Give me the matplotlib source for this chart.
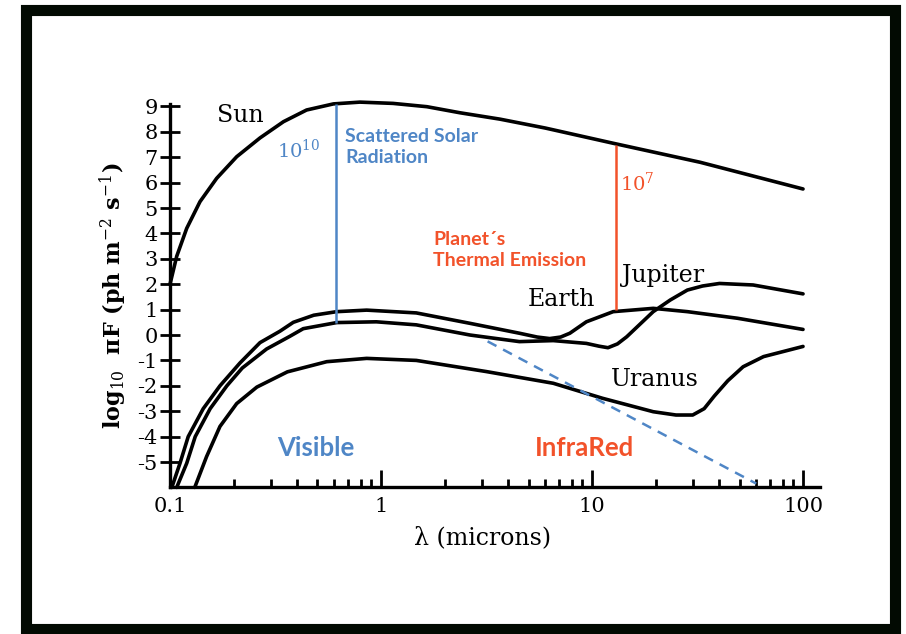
import numpy as np
import matplotlib
matplotlib.use("Agg")
import matplotlib.pyplot as plt
from matplotlib.patches import Rectangle

plt.rcParams["font.family"] = ["DejaVu Serif"]
plt.rcParams["mathtext.fontset"] = "dejavuserif"
plt.rcParams["axes.unicode_minus"] = False

# curves (wavelength in microns, log10 flux)
sun_x = [0.1, 0.1076, 0.120, 0.1387, 0.1664, 0.207, 0.267, 0.345, 0.444, 0.595, 0.794, 1.14, 1.65, 2.37, 3.66, 6.0, 12.6, 32.6, 100]
sun_y = [2.0, 3.1, 4.2, 5.25, 6.17, 7.02, 7.76, 8.4, 8.86, 9.1, 9.17, 9.12, 8.99, 8.75, 8.5, 8.15, 7.55, 6.8, 5.75]

earth_x = [0.102, 0.1115, 0.122, 0.1437, 0.1725, 0.2146, 0.267, 0.332, 0.384, 0.48, 0.617, 0.855, 1.47, 2.64, 4.53, 5.5, 6.3, 7.1, 7.85, 9.4, 12.6, 19.5, 28.3, 48.9, 100]
earth_y = [-6.0, -5.05, -4.0, -2.9, -2.0, -1.1, -0.3, 0.15, 0.5, 0.78, 0.92, 0.98, 0.87, 0.46, 0.07, -0.08, -0.14, -0.08, 0.07, 0.52, 0.92, 1.05, 0.92, 0.66, 0.22]

jupiter_x = [0.1076, 0.120, 0.1317, 0.155, 0.186, 0.22, 0.287, 0.37, 0.428, 0.617, 0.95, 1.47, 2.64, 4.53, 6.55, 9.4, 10.8, 11.9, 13.2, 14.6, 19.5, 23.5, 28.3, 33.4, 40.2, 58, 100]
jupiter_y = [-6.0, -5.05, -4.0, -2.9, -2.0, -1.3, -0.55, -0.05, 0.25, 0.49, 0.52, 0.40, 0.0, -0.26, -0.22, -0.33, -0.44, -0.5, -0.35, -0.07, 0.92, 1.38, 1.77, 1.93, 2.03, 1.97, 1.62]

uranus_x = [0.131, 0.149, 0.1725, 0.207, 0.258, 0.36, 0.553, 0.855, 1.47, 3.16, 6.55, 11.2, 19.5, 25, 30, 34, 38, 44, 52, 65, 100]
uranus_y = [-6.0, -4.79, -3.6, -2.7, -2.05, -1.45, -1.05, -0.92, -1.0, -1.44, -1.9, -2.49, -3.02, -3.15, -3.15, -2.9, -2.4, -1.8, -1.25, -0.85, -0.45]

dash_x = [3.2, 60]
dash_y = [-0.25, -5.85]

scat_x, scat_lo, scat_hi = 0.61, 0.49, 9.1
therm_x, therm_lo, therm_hi = 13.0, 1.0, 7.5

xticks = [0.1, 1, 10, 100]
xticklabels = ["0.1", "1", "10", "100"]
yticks = list(range(-5, 10))

blue = "#4f86c6"
red = "#f2522a"

fig = plt.figure(figsize=(9.06, 6.34), dpi=100)
ax = fig.add_axes([170 / 906, (634 - 487.4) / 634, 650.5 / 906, 383.5 / 634])

lw = 2.6
for xs, ys in [(sun_x, sun_y), (earth_x, earth_y), (jupiter_x, jupiter_y), (uranus_x, uranus_y)]:
    ax.plot(xs, ys, color="black", lw=lw, solid_capstyle="round",
            solid_joinstyle="round", clip_on=False)
ax.plot(dash_x, dash_y, color=blue, lw=1.8, linestyle=(0, (4, 3)))

ax.vlines(scat_x, scat_lo, scat_hi, color=blue, lw=1.8)
ax.vlines(therm_x, therm_lo, therm_hi, color=red, lw=1.8)

ax.set_xscale("log")
ax.set_xlim(0.1, 121)
ax.set_ylim(-6.0, 9.1)

ax.set_xticks(xticks)
ax.set_xticklabels(xticklabels)
ax.set_xticks([m * d for d in [0.1, 1, 10] for m in range(2, 10)], minor=True)
ax.xaxis.set_minor_formatter(matplotlib.ticker.NullFormatter())
ax.set_yticks(yticks)

ax.tick_params(axis="x", which="major", direction="in", length=12, width=2, labelsize=15, pad=7)
ax.tick_params(axis="x", which="minor", direction="in", length=6, width=2)
ax.tick_params(axis="y", which="major", direction="inout", length=14, width=2, labelsize=15, pad=2)

for s in ["top", "right"]:
    ax.spines[s].set_visible(False)
for s in ["left", "bottom"]:
    ax.spines[s].set_linewidth(2.4)

ax.set_xlabel("λ (microns)", fontsize=17)
ax.xaxis.set_label_coords(0.48, -0.10)
ax.set_ylabel(r"log$_{10}$  πF (ph m$^{-2}$ s$^{-1}$)", fontsize=16, fontweight="bold", labelpad=6)

# labels
ax.text(0.2146, 8.66, "Sun", fontsize=17, ha="center", va="center")
ax.text(0.409, 7.28, r"10$^{10}$", fontsize=14, color=blue, ha="center", va="center")
ax.text(0.675, 7.4, "Scattered Solar\nRadiation", fontsize=14, color=blue,
        family="Lato", fontweight="bold", ha="left", va="center", linespacing=1.25)
ax.text(13.5, 5.98, r"10$^{7}$", fontsize=14, color=red, ha="left", va="center")
ax.text(1.77, 3.35, "Planet´s\nThermal Emission", fontsize=14, color=red,
        family="Lato", fontweight="bold", ha="left", va="center", linespacing=1.25)
ax.text(13.8, 2.36, "Jupiter", fontsize=17, ha="left", va="center")
ax.text(4.97, 1.38, "Earth", fontsize=17, ha="left", va="center")
ax.text(12.3, -1.77, "Uranus", fontsize=17, ha="left", va="center")
ax.text(0.492, -4.46, "Visible", fontsize=18.5, color=blue, family="Lato",
        fontweight="bold", ha="center", va="center")
ax.text(9.26, -4.46, "InfraRed", fontsize=18.5, color=red, family="Lato",
        fontweight="bold", ha="center", va="center")

# black frame round the picture
fig.patches.append(Rectangle((25.5 / 906, 5.5 / 634), 869 / 906, 619 / 634,
                             transform=fig.transFigure, fill=False,
                             edgecolor="#020a02", lw=8))

fig.savefig("out.png", dpi=100)
